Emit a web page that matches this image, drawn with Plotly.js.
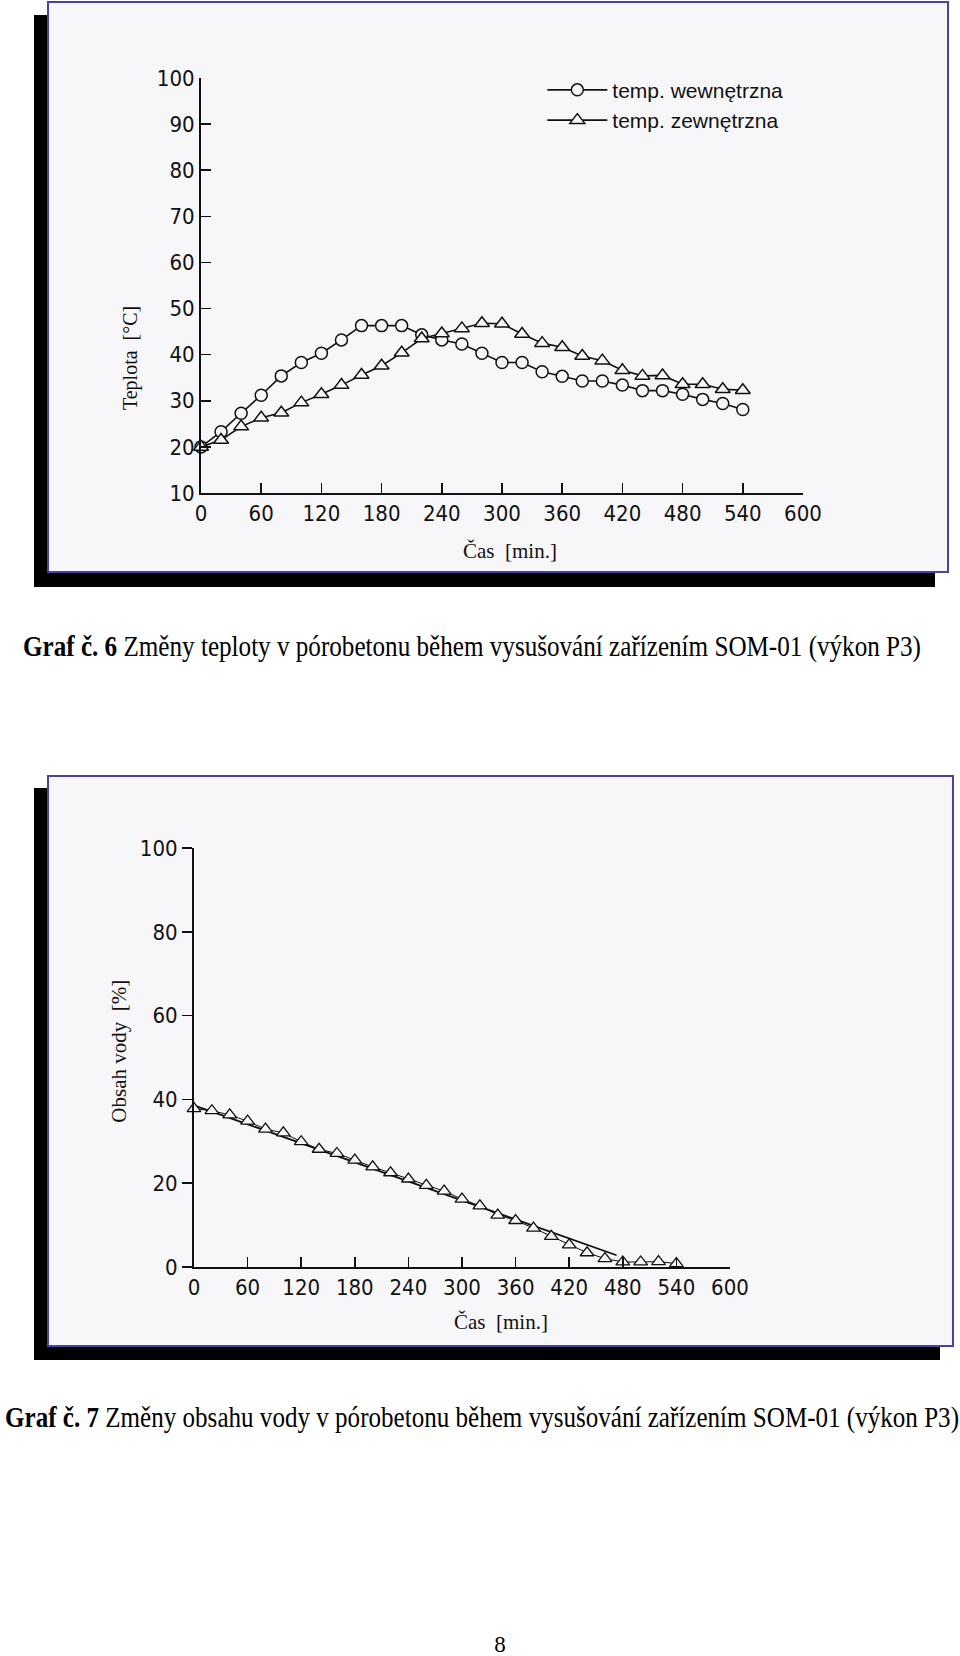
<!DOCTYPE html>
<html><head><meta charset="utf-8">
<script src="https://cdn.plot.ly/plotly-3.0.1.min.js"></script>
<style>
html,body{margin:0;padding:0;background:#fff;}
body{width:960px;height:1656px;position:relative;overflow:hidden;}
.shadow{position:absolute;background:#000;}
.frame{position:absolute;box-sizing:border-box;border:2px solid #4a42a0;background:#f7f6f8;}
.plot{position:absolute;left:0;top:0;}
.cap{position:absolute;font-family:"Liberation Serif","Times New Roman",serif;font-size:29px;line-height:32px;white-space:nowrap;transform-origin:0 50%;color:#000;}
.pnum{position:absolute;font-family:"Liberation Serif","Times New Roman",serif;font-size:23px;line-height:26px;color:#000;text-align:center;}
</style></head>
<body>
<div class="shadow" style="left:34px;top:15px;width:901px;height:572px"></div>
<div class="frame" style="left:47px;top:1px;width:902px;height:572px"><div id="g6" class="plot"></div></div>
<div id="cap6" class="cap" style="left:23px;top:630px"><b>Graf č. 6</b> Změny teploty v pórobetonu během vysušování zařízením SOM-01 (výkon P3)</div>

<div class="shadow" style="left:34px;top:788px;width:906px;height:572px"></div>
<div class="frame" style="left:47px;top:775px;width:907px;height:572px"><div id="g7" class="plot"></div></div>
<div id="cap7" class="cap" style="left:5px;top:1401px"><b>Graf č. 7</b> Změny obsahu vody v pórobetonu během vysušování zařízením SOM-01 (výkon P3)</div>

<div class="pnum" style="left:480px;top:1632px;width:40px">8</div>

<script>
// ---- Data: Graf č. 6 (temperature) ----
const timeMin = [0,20,40,60,80,100,120,140,160,180,200,220,240,260,280,300,320,340,360,380,400,420,440,460,480,500,520,540];
const tempWewnetrzna = [20,23.3,27.3,31.2,35.4,38.3,40.3,43.2,46.3,46.3,46.3,44.3,43.2,42.3,40.3,38.3,38.3,36.3,35.3,34.3,34.3,33.4,32.2,32.2,31.4,30.3,29.4,28.1];
const tempZewnetrzna = [20,21.5,24.4,26.3,27.4,29.6,31.4,33.4,35.6,37.6,40.4,43.5,44.6,45.7,46.8,46.7,44.5,42.5,41.6,39.7,38.7,36.6,35.4,35.5,33.6,33.6,32.5,32.3];
const seriesNames = ["temp. wewnętrzna","temp. zewnętrzna"];

// ---- Data: Graf č. 7 (water content) ----
const waterTime = [0,20,40,60,80,100,120,140,160,180,200,220,240,260,280,300,320,340,360,380,400,420,440,460,480,500,520,540];
const waterContent = [37.8,37.3,36.3,34.8,32.9,32.0,29.9,28.1,27.1,25.5,23.9,22.5,21.0,19.5,18.1,16.2,14.6,12.4,11.1,9.3,7.3,5.3,3.4,2.0,1.2,1.2,1.3,0.8];
const trendTime = [0,473];
const trendValue = [38.6,2.8];

// ---- Axis ticks ----
const xTicks = [0,60,120,180,240,300,360,420,480,540,600];
const yTicks6 = [10,20,30,40,50,60,70,80,90,100];
const yTicks7 = [0,20,40,60,80,100];

const BG = '#f7f6f8';
const INK = '#111';
const narrow = '"Liberation Sans Narrow","DejaVu Sans Condensed","Arial Narrow",sans-serif';
const serif = '"Liberation Serif","Times New Roman",serif';
const sans = '"Liberation Sans",Arial,sans-serif';

function axisBase(ticksDir){
  return {
    showline:true, linecolor:INK, linewidth:2, showgrid:false, zeroline:false,
    ticks:ticksDir, ticklen:10, tickwidth:1.5, tickcolor:INK,
    tickfont:{family:narrow, size:22, color:INK}, fixedrange:true
  };
}

// Graf 6
const t6 = [
  {x:timeMin, y:tempWewnetrzna, name:seriesNames[0], mode:'lines+markers', cliponaxis:false,
   line:{color:INK, width:1.6},
   marker:{symbol:'circle', size:12, color:BG, line:{color:INK, width:1.5}}},
  {x:timeMin, y:tempZewnetrzna, name:seriesNames[1], mode:'lines+markers', cliponaxis:false,
   line:{color:INK, width:1.6},
   marker:{symbol:'triangle-up', size:13, color:BG, line:{color:INK, width:1.5}}}
];
const l6 = {
  width:898, height:568,
  margin:{l:152, r:144, t:75, b:78, pad:0},
  paper_bgcolor:BG, plot_bgcolor:BG,
  font:{family:sans, color:INK},
  xaxis:Object.assign(axisBase('inside'), {range:[0,600], tickmode:'array', tickvals:xTicks}),
  yaxis:Object.assign(axisBase('inside'), {range:[10,100], tickmode:'array', tickvals:yTicks6}),
  showlegend:true,
  legend:{x:0.567, y:1.02, xanchor:'left', yanchor:'top', bgcolor:'rgba(0,0,0,0)',
          font:{family:sans, size:21, color:INK}, itemwidth:60, tracegroupgap:0},
  annotations:[
    {text:'Teplota  [°C]', xref:'paper', yref:'paper', x:-0.118, y:0.325, textangle:-90,
     showarrow:false, xanchor:'center', yanchor:'middle', font:{family:serif, size:20, color:INK}},
    {text:'Čas  [min.]', xref:'paper', yref:'paper', x:0.513, y:-0.139,
     showarrow:false, xanchor:'center', yanchor:'middle', font:{family:serif, size:21, color:INK}}
  ]
};
Plotly.newPlot('g6', t6, l6, {staticPlot:true, displayModeBar:false});

// Graf 7
const t7 = [
  {x:trendTime, y:trendValue, mode:'lines', line:{color:INK, width:1.8}, showlegend:false, cliponaxis:false},
  {x:waterTime, y:waterContent, mode:'lines+markers', cliponaxis:false, showlegend:false,
   line:{color:INK, width:1},
   marker:{symbol:'triangle-up', size:12, color:BG, line:{color:INK, width:1.3}}}
];
const l7 = {
  width:903, height:568,
  margin:{l:145, r:222, t:71, b:78, pad:0},
  paper_bgcolor:BG, plot_bgcolor:BG,
  font:{family:sans, color:INK},
  xaxis:Object.assign(axisBase('inside'), {range:[0,600], tickmode:'array', tickvals:xTicks}),
  yaxis:Object.assign(axisBase('outside'), {range:[0,100], tickmode:'array', tickvals:yTicks7}),
  showlegend:false,
  annotations:[
    {text:'Obsah vody  [%]', xref:'paper', yref:'paper', x:-0.1406, y:0.5155, textangle:-90,
     showarrow:false, xanchor:'center', yanchor:'middle', font:{family:serif, size:21, color:INK}},
    {text:'Čas  [min.]', xref:'paper', yref:'paper', x:0.5726, y:-0.132,
     showarrow:false, xanchor:'center', yanchor:'middle', font:{family:serif, size:21, color:INK}}
  ]
};
Plotly.newPlot('g7', t7, l7, {staticPlot:true, displayModeBar:false});

// fit captions to their printed widths
function fit(id, target){
  const el = document.getElementById(id);
  const w = el.getBoundingClientRect().width;
  if (w > 0) el.style.transform = 'scaleX(' + (target / w) + ')';
}
fit('cap6', 898);
fit('cap7', 954);
</script>
</body></html>
